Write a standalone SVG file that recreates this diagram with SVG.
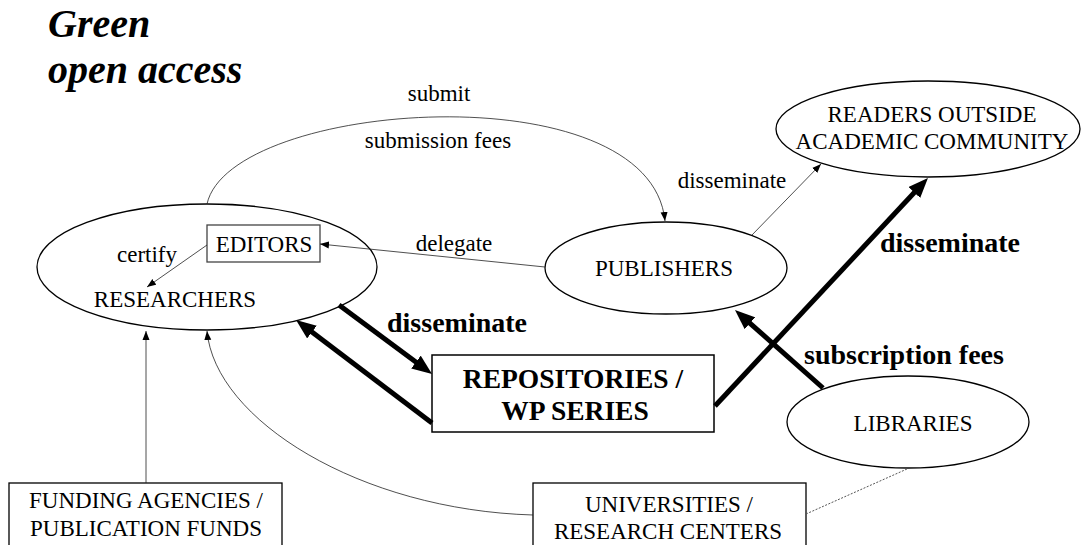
<svg xmlns="http://www.w3.org/2000/svg" width="1081" height="545" viewBox="0 0 1081 545" font-family="'Liberation Serif', 'Times New Roman', Times, 'DejaVu Serif', serif">
<style>
text{font-family:'Liberation Serif', 'Times New Roman', Times, 'DejaVu Serif', serif;fill:#000}
.n{font-size:23px}
.b{font-size:28px;font-weight:bold}
.t{font-size:40px;font-weight:bold;font-style:italic}
.m{text-anchor:middle}
.shape{fill:#fff;stroke:#000;stroke-width:1.3}
.thin{fill:none;stroke:#222;stroke-width:0.8}
.bold{fill:none;stroke:#000;stroke-width:5}
.dot{fill:none;stroke:#555;stroke-width:1;stroke-dasharray:2 1.5}
</style>
<defs>
<marker id="sm" markerUnits="userSpaceOnUse" markerWidth="10" markerHeight="8" viewBox="0 0 10 8" refX="9" refY="4" orient="auto"><path d="M0,0.5 L9,4 L0,7.5 z" fill="#000"/></marker>
<marker id="bg" markerUnits="userSpaceOnUse" markerWidth="20" markerHeight="16" viewBox="0 0 20 16" refX="12" refY="8" orient="auto"><path d="M0,0 L20,8 L0,16 z" fill="#000"/></marker>
</defs>
<rect width="1081" height="545" fill="#fff"/>
<g id="title">
<text class="t" x="48" y="37">Green</text>
<text class="t" x="48" y="83">open access</text>
</g>
<g id="researchers">
<ellipse class="shape" cx="207" cy="267" rx="170" ry="63"/>
<text class="n m" x="175" y="307">RESEARCHERS</text>
</g>
<g id="editors">
<rect class="shape" x="207" y="225" width="113" height="37" style="stroke:#444"/>
<text class="n m" x="264" y="252">EDITORS</text>
</g>
<g id="publishers">
<ellipse class="shape" cx="666" cy="268" rx="121" ry="46"/>
<text class="n m" x="664" y="276">PUBLISHERS</text>
</g>
<g id="readers">
<ellipse class="shape" cx="928" cy="129" rx="152" ry="48"/>
<text class="n m" x="932" y="122">READERS OUTSIDE</text>
<text class="n m" x="932" y="149">ACADEMIC COMMUNITY</text>
</g>
<g id="repositories">
<rect class="shape" x="432" y="355" width="282" height="77" style="stroke-width:1.5"/>
<text class="b m" x="573" y="388" style="font-size:27.5px">REPOSITORIES /</text>
<text class="b m" x="575" y="420" style="font-size:27.5px">WP SERIES</text>
</g>
<g id="libraries">
<ellipse class="shape" cx="908" cy="422" rx="121" ry="46"/>
<text class="n m" x="913" y="431">LIBRARIES</text>
</g>
<g id="funding">
<rect class="shape" x="9" y="483" width="273" height="70"/>
<text class="n m" x="146" y="508">FUNDING AGENCIES /</text>
<text class="n m" x="146" y="536">PUBLICATION FUNDS</text>
</g>
<g id="universities">
<rect class="shape" x="533" y="483" width="273" height="70"/>
<text class="n m" x="669" y="512">UNIVERSITIES /</text>
<text class="n m" x="668" y="539">RESEARCH CENTERS</text>
</g>
<g id="connectors">
<path class="thin" d="M207,204 C230,100 650,70 665,221" marker-end="url(#sm)"/>
<path class="thin" d="M545,267 L320,244" marker-end="url(#sm)"/>
<path class="thin" d="M207,245 L147,287" marker-end="url(#sm)"/>
<path class="thin" d="M752,235 L821,164" marker-end="url(#sm)"/>
<path class="thin" d="M146,483 L146,331" marker-end="url(#sm)"/>
<path class="thin" d="M533,515 C360,510 215,420 207,331" marker-end="url(#sm)"/>
<path class="dot" d="M806,514 L907,469"/>
<path class="bold" d="M339,305 L425.6,369.2" marker-end="url(#bg)"/>
<path class="bold" d="M432,423 L302.4,324.8" marker-end="url(#bg)"/>
<path class="bold" d="M715,406 L922.5,183.8" marker-end="url(#bg)"/>
<path class="bold" d="M823,388 L741,315.3" marker-end="url(#bg)"/>
</g>
<g id="labels">
<text class="n m" x="439" y="101">submit</text>
<text class="n m" x="438" y="148">submission fees</text>
<text class="n m" x="732" y="188">disseminate</text>
<text class="n m" x="454" y="251">delegate</text>
<text class="n m" x="147" y="262">certify</text>
<text class="b m" x="457" y="332">disseminate</text>
<text class="b m" x="950" y="252">disseminate</text>
<text class="b m" x="904" y="364">subscription fees</text>
</g>
</svg>
